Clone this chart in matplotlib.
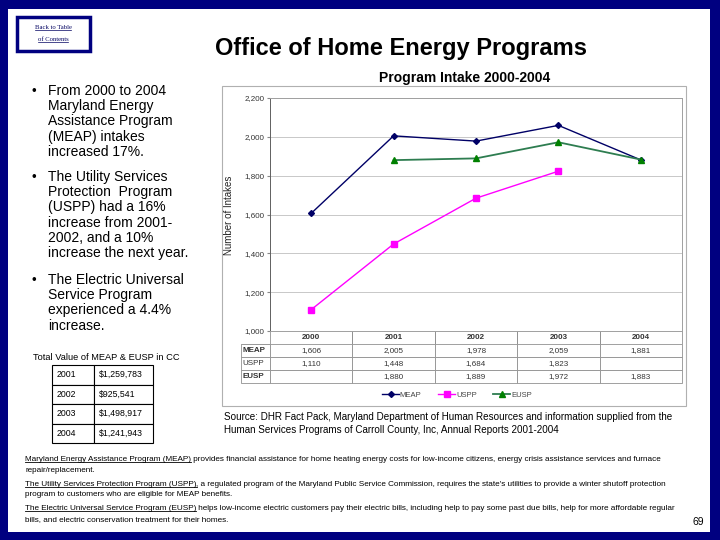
import numpy as np
import matplotlib
matplotlib.use('Agg')
import matplotlib.pyplot as plt
from matplotlib.patches import Rectangle
from matplotlib.lines import Line2D
from matplotlib.transforms import IdentityTransform

plt.rcParams['font.family'] = ['Liberation Sans', 'DejaVu Sans']

# chart data
years = ['2000', '2001', '2002', '2003', '2004']
meap = [1606, 2005, 1978, 2059, 1881]
uspp = [1110, 1448, 1684, 1823, np.nan]
eusp = [np.nan, 1880, 1889, 1972, 1883]
y_ticks = [1000, 1200, 1400, 1600, 1800, 2000, 2200]

# small table: total value in CC
cc_years = ['2001', '2002', '2003', '2004']
cc_values = ['$1,259,783', '$925,541', '$1,498,917', '$1,241,943']

W, H = 720, 540
fig = plt.figure(figsize=(7.2, 5.4), dpi=100, facecolor='#000080')
PX = IdentityTransform()


def txt(x, y, s, **kw):
    # x, y in pixels from the top-left corner
    return fig.text(x, H - y, s, transform=PX, **kw)


renderer = fig.canvas.get_renderer()


def underlined(x, y, s, **kw):
    t = txt(x, y, s, va='baseline', **kw)
    bb = t.get_window_extent(renderer)
    fig.add_artist(Line2D([bb.x0, bb.x1], [H - y - 1.2, H - y - 1.2],
                          transform=PX, color='black', lw=0.6))
    return bb.x1


# white slide
fig.add_artist(Rectangle((8, 8), 702, 523, transform=PX, facecolor='white',
                         edgecolor='none', zorder=-3))

# back to contents box
fig.add_artist(Rectangle((17, H - 51), 73, 34, transform=PX, facecolor='white',
                         edgecolor='#000080', lw=2.5, zorder=-2))
for yy, s in [(29, 'Back to Table'), (41, 'of Contents')]:
    t = txt(53, yy, s, ha='center', va='baseline', fontsize=4.8,
            family='Liberation Serif', color='#000060')
    bb = t.get_window_extent(renderer)
    fig.add_artist(Line2D([bb.x0, bb.x1], [H - yy - 1, H - yy - 1],
                          transform=PX, color='#000060', lw=0.5))

txt(401, 55, 'Office of Home Energy Programs', ha='center', va='baseline',
    fontsize=17, fontweight='bold')

# bullets
bullets = [
    (95, ['From 2000 to 2004', 'Maryland Energy', 'Assistance Program',
          '(MEAP) intakes', 'increased 17%.']),
    (181, ['The Utility Services', 'Protection  Program', '(USPP) had a 16%',
           'increase from 2001-', '2002, and a 10%', 'increase the next year.']),
    (284, ['The Electric Universal', 'Service Program', 'experienced a 4.4%',
           'increase.']),
]
for y0, lines in bullets:
    txt(32, y0, '\u2022', fontsize=9.5, va='baseline')
    for i, line in enumerate(lines):
        txt(48, y0 + i * 15.2, line, fontsize=10, va='baseline')

# chart frame
fig.add_artist(Rectangle((222, H - 406), 464, 320, transform=PX, facecolor='white',
                         edgecolor='#b0b0b0', lw=0.8, zorder=-2))
txt(465, 78, 'Program Intake 2000-2004', ha='center', va='center',
    fontsize=10, fontweight='bold')

ax = fig.add_axes([270 / W, 1 - 331 / H, 412 / W, 233 / H])
ax.patch.set_alpha(0)
x = np.arange(len(years))
l1, = ax.plot(x, meap, color='#000066', marker='D', markersize=3, lw=1,
              label='MEAP')
l2, = ax.plot(x, uspp, color='#ff00ff', marker='s', markersize=4, lw=1,
              label='USPP')
l3, = ax.plot(x, eusp, color='#2e7d50', marker='^', markersize=4.5, lw=1.3,
              markerfacecolor='#008000', markeredgecolor='#008000', label='EUSP')
ax.set_xlim(-0.5, len(years) - 0.5)
ax.set_ylim(1000, 2200)
ax.set_yticks(y_ticks)
ax.set_yticklabels([f'{v:,}' for v in y_ticks])
ax.set_xticks(x)
ax.set_xticklabels([])
ax.tick_params(axis='x', length=0)
ax.tick_params(axis='y', length=2, labelsize=5.8, labelcolor='#333333',
               color='#888888', pad=2)
ax.grid(axis='y', color='#c8c8c8', lw=0.7)
ax.set_axisbelow(True)
for sp in ax.spines.values():
    sp.set_color('#a0a0a0')
    sp.set_linewidth(0.7)
ax.spines['left'].set_color('#606060')
txt(229, 215, 'Number of Intakes', rotation=90, ha='center', va='center',
    fontsize=7, color='#222222')

# data table under the chart
def fmt(v):
    return '' if np.isnan(v) else f'{int(v):,}'

cell_text = [[''] + years,
             ['MEAP'] + [fmt(v) for v in meap],
             ['USPP'] + [fmt(v) for v in uspp],
             ['EUSP'] + [fmt(v) for v in eusp]]
tab = ax.table(cellText=cell_text, cellLoc='center',
               colWidths=[29] + [82.4] * 5,
               bbox=[-29 / 412, -52 / 233, 441 / 412, 52 / 233])
tab.auto_set_font_size(False)
tab.set_fontsize(5.8)
for (r, c), cell in tab.get_celld().items():
    cell.set_edgecolor('#909090')
    cell.set_linewidth(0.6)
    cell.get_text().set_color('#333333')
    if r == 0:
        cell.visible_edges = 'LR' if c > 0 else 'B'
        cell.get_text().set_fontweight('bold')
    if c == 0:
        cell.get_text().set_ha('left')
        cell.PAD = 0.05
        if r in (1, 3):
            cell.get_text().set_fontweight('bold')

fig.legend(handles=[l1, l2, l3], loc='center',
           bbox_to_anchor=(457 / W, 1 - 395 / H), ncol=3, frameon=False,
           fontsize=5.5, handlelength=2.2, handletextpad=0.1, columnspacing=2.2,
           labelcolor='#444444')

# source
txt(224, 420, 'Source: DHR Fact Pack, Maryland Department of Human Resources '
    'and information supplied from the', fontsize=7.1, va='baseline')
txt(224, 433, 'Human Services Programs of Carroll County, Inc, Annual Reports '
    '2001-2004', fontsize=7.1, va='baseline')

# small table
txt(106, 358, 'Total Value of MEAP & EUSP in CC', ha='center', va='center',
    fontsize=6.7)
tax = fig.add_axes([52 / W, 1 - 443 / H, 101 / W, 78 / H])
tax.axis('off')
stab = tax.table(cellText=[[yv, vv] for yv, vv in zip(cc_years, cc_values)],
                 cellLoc='left', colWidths=[42, 59], bbox=[0, 0, 1, 1])
stab.auto_set_font_size(False)
stab.set_fontsize(6.3)
for (r, c), cell in stab.get_celld().items():
    cell.set_linewidth(0.8)
    cell.PAD = 0.12 if c == 0 else 0.08

# notes at the bottom
notes = [
    ('Maryland Energy Assistance Program (MEAP)',
     ' provides financial assistance for home heating energy costs for low-income '
     'citizens, energy crisis assistance services and furnace',
     'repair/replacement.'),
    ('The Utility Services Protection Program (USPP)',
     ', a regulated program of the Maryland Public Service Commission, requires the '
     "state's utilities to provide a winter shutoff protection",
     'program to customers who are eligible for MEAP benefits.'),
    ('The Electric Universal Service Program (EUSP)',
     ' helps low-income electric customers pay their electric bills, including help '
     'to pay some past due bills, help for more affordable regular',
     'bills, and electric conservation treatment for their homes.'),
]
for i, (head, rest, second) in enumerate(notes):
    yb = 461 + i * 24.5
    xe = underlined(25, yb, head, fontsize=5.85)
    txt(xe, yb, rest, fontsize=5.85, va='baseline')
    txt(25, yb + 11, second, fontsize=5.85, va='baseline')

txt(698, 522, '69', ha='center', va='center', fontsize=7.5)

fig.savefig('out.png', dpi=100, facecolor=fig.get_facecolor())
